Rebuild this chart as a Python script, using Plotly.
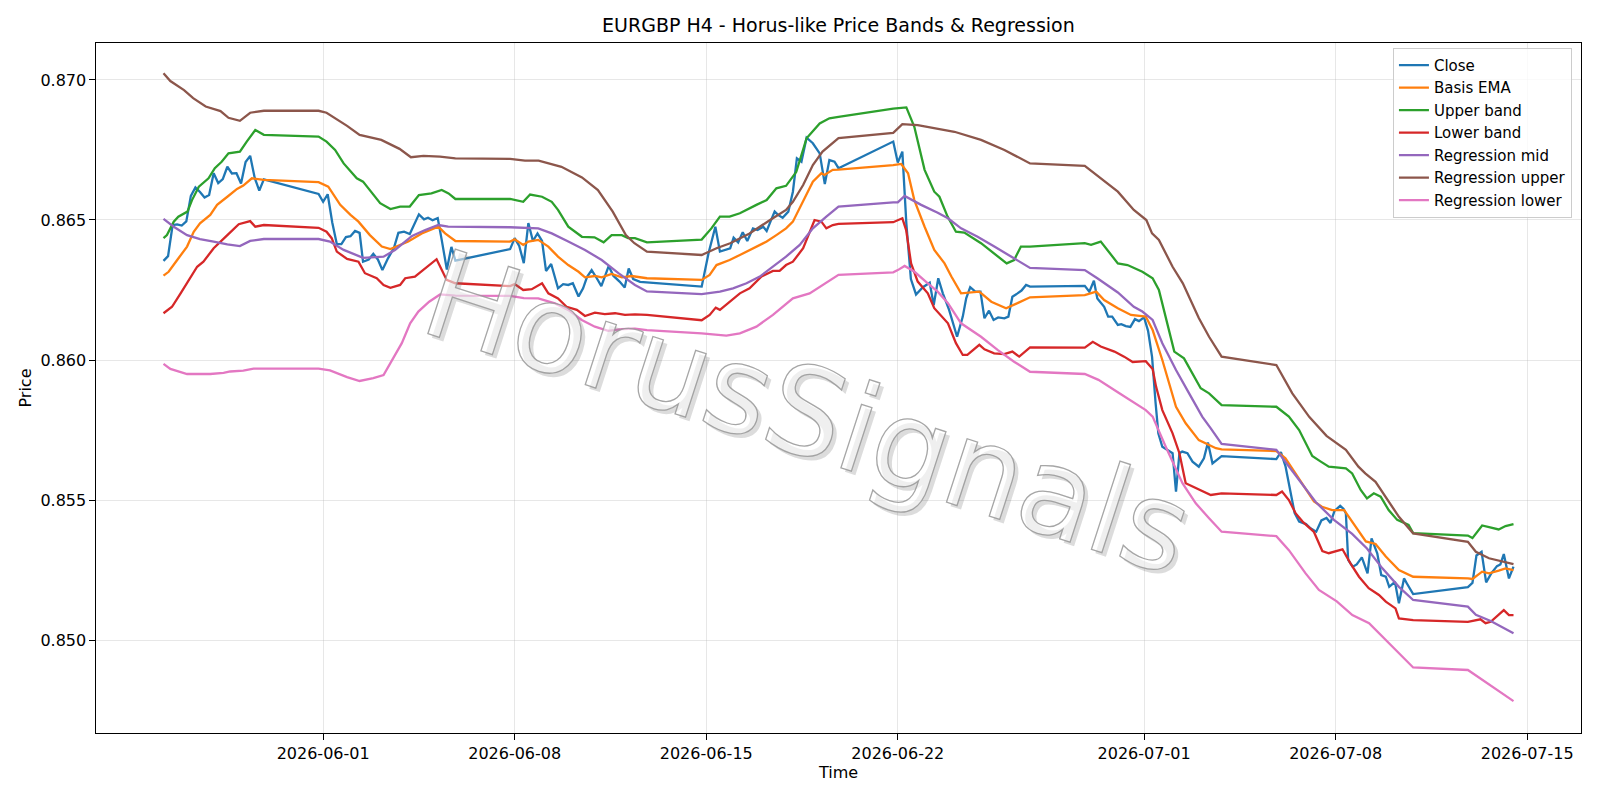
import plotly.graph_objects as go

YEAR = "2026-"

close_pts = [
("05-26 04:00",0.86354),("05-26 08:00",0.86371),("05-26 12:00",0.86482),("05-26 16:00",0.86484),("05-26 20:00",0.86480),
("05-27 00:00",0.86495),("05-27 04:00",0.86586),("05-27 08:00",0.86616),("05-27 12:00",0.86600),("05-27 16:00",0.86580),
("05-27 20:00",0.86589),("05-28 00:00",0.86667),("05-28 04:00",0.86632),("05-28 08:00",0.86646),("05-28 12:00",0.86690),
("05-28 16:00",0.86666),("05-28 20:00",0.86667),("05-29 00:00",0.86630),("05-29 04:00",0.86707),("05-29 08:00",0.86729),
("05-29 12:00",0.86650),("05-29 16:00",0.86605),("05-29 20:00",0.86645),("05-31 20:00",0.86593),("06-01 00:00",0.86565),
("06-01 04:00",0.86592),("06-01 08:00",0.86491),("06-01 12:00",0.86414),("06-01 16:00",0.86414),("06-01 20:00",0.86439),
("06-02 00:00",0.86442),("06-02 04:00",0.86461),("06-02 08:00",0.86454),("06-02 11:00",0.86351),("06-02 16:00",0.86359),
("06-02 20:00",0.86379),("06-03 00:00",0.86359),("06-03 04:00",0.86321),("06-03 09:00",0.86364),("06-03 14:00",0.86399),
("06-03 18:00",0.86454),("06-03 23:00",0.86458),("06-04 04:00",0.86450),("06-04 08:30",0.86490),("06-04 12:00",0.86520),
("06-04 16:30",0.86502),("06-04 20:00",0.86508),("06-05 00:00",0.86499),("06-05 04:30",0.86507),("06-05 08:00",0.86429),
("06-05 12:30",0.86323),("06-05 16:30",0.86404),("06-05 20:00",0.86355),("06-07 20:00",0.86396),("06-08 00:00",0.86435),
("06-08 04:00",0.86407),("06-08 08:00",0.86346),("06-08 12:00",0.86489),("06-08 16:00",0.86425),("06-08 20:00",0.86452),
("06-09 00:00",0.86425),("06-09 03:30",0.86318),("06-09 08:00",0.86343),("06-09 14:00",0.86256),("06-09 18:30",0.86271),
("06-09 23:00",0.86268),("06-10 03:00",0.86274),("06-10 08:00",0.86227),("06-10 12:00",0.86256),("06-10 15:30",0.86297),
("06-10 19:30",0.86321),("06-11 00:00",0.86292),("06-11 04:00",0.86264),("06-11 10:30",0.86336),("06-11 14:30",0.86301),
("06-11 20:00",0.86280),("06-12 00:30",0.86259),("06-12 04:00",0.86327),("06-12 08:00",0.86289),("06-12 14:00",0.86279),
("06-12 20:00",0.86277),("06-14 20:00",0.86262),("06-15 02:00",0.86381),("06-15 08:00",0.86476),("06-15 12:00",0.86387),
("06-15 18:00",0.86396),("06-15 21:00",0.86399),("06-16 00:00",0.86437),("06-16 04:00",0.86420),("06-16 08:00",0.86456),
("06-16 12:00",0.86425),("06-16 17:00",0.86470),("06-16 21:00",0.86464),("06-17 02:00",0.86476),("06-17 05:00",0.86461),
("06-17 08:30",0.86496),("06-17 12:00",0.86530),("06-17 15:00",0.86518),("06-17 19:00",0.86508),("06-18 00:00",0.86530),
("06-18 04:00",0.86601),("06-18 07:30",0.86720),("06-18 11:30",0.86708),("06-18 16:00",0.86794),("06-18 21:30",0.86774),
("06-19 03:30",0.86738),("06-19 08:00",0.86628),("06-19 12:00",0.86714),("06-19 16:30",0.86708),("06-19 20:00",0.86685),
("06-21 20:00",0.86780),("06-22 00:00",0.86705),("06-22 04:00",0.86744),("06-22 07:30",0.86488),("06-22 11:30",0.86289),
("06-22 16:00",0.86234),("06-22 22:00",0.86260),("06-23 04:00",0.86276),("06-23 07:30",0.86196),("06-23 11:30",0.86292),
("06-23 15:30",0.86238),("06-23 21:00",0.86179),("06-24 04:00",0.86083),("06-24 09:00",0.86155),("06-24 12:00",0.86220),
("06-24 15:30",0.86260),("06-24 20:00",0.86244),("06-25 00:30",0.86244),("06-25 04:00",0.86149),("06-25 08:00",0.86176),
("06-25 12:00",0.86143),("06-25 16:00",0.86152),("06-25 21:30",0.86149),("06-26 01:00",0.86155),("06-26 04:30",0.86226),
("06-26 09:00",0.86238),("06-26 12:30",0.86248),("06-26 16:30",0.86268),("06-26 20:00",0.86262),("06-28 20:00",0.86265),
("06-29 00:00",0.86244),("06-29 04:00",0.86283),("06-29 07:00",0.86220),("06-29 13:00",0.86190),("06-29 16:30",0.86155),
("06-29 20:00",0.86155),("06-30 01:00",0.86125),("06-30 04:00",0.86128),("06-30 08:00",0.86121),("06-30 12:00",0.86118),
("06-30 16:00",0.86146),("06-30 19:30",0.86139),("07-01 00:00",0.86152),("07-01 03:30",0.86104),("07-01 07:00",0.86011),
("07-01 10:00",0.85851),("07-01 12:30",0.85738),("07-01 16:00",0.85690),("07-01 20:30",0.85679),("07-02 01:00",0.85667),
("07-02 04:00",0.85530),("07-02 07:00",0.85667),("07-02 09:30",0.85673),("07-02 14:00",0.85667),("07-02 18:30",0.85637),
("07-03 00:00",0.85619),("07-03 04:30",0.85649),("07-03 08:00",0.85705),("07-03 12:00",0.85631),("07-03 16:00",0.85645),
("07-03 20:00",0.85657),("07-05 20:00",0.85646),("07-06 00:00",0.85671),("07-06 04:00",0.85621),("07-06 08:00",0.85543),
("07-06 12:00",0.85454),("07-06 16:00",0.85423),("07-06 22:00",0.85414),("07-07 02:00",0.85399),("07-07 07:00",0.85387),
("07-07 11:30",0.85427),("07-07 16:00",0.85436),("07-07 19:30",0.85418),("07-07 23:00",0.85461),("07-08 04:00",0.85479),
("07-08 07:00",0.85468),("07-08 09:00",0.85452),("07-08 11:00",0.85286),("07-08 15:00",0.85262),("07-08 18:30",0.85270),
("07-08 23:00",0.85295),("07-09 04:00",0.85238),("07-09 07:30",0.85363),("07-09 12:30",0.85310),("07-09 16:00",0.85232),
("07-09 20:00",0.85226),("07-09 23:00",0.85190),("07-10 04:00",0.85208),("07-10 07:30",0.85131),("07-10 12:00",0.85220),
("07-10 14:30",0.85202),("07-10 20:00",0.85164),("07-12 20:00",0.85189),("07-13 00:00",0.85204),("07-13 03:30",0.85302),
("07-13 08:00",0.85315),("07-13 12:00",0.85206),("07-13 16:30",0.85238),("07-13 21:30",0.85264),("07-14 00:30",0.85270),
("07-14 03:30",0.85307),("07-14 08:00",0.85220),("07-14 12:00",0.85262),
]

basis_pts = [
("05-26 04:00",0.86301),("05-26 08:30",0.86315),("05-26 16:00",0.86357),("05-27 00:40",0.86405),("05-27 06:30",0.86458),
("05-27 12:00",0.86488),("05-27 21:00",0.86518),("05-28 03:00",0.86554),("05-28 12:00",0.86583),("05-28 20:30",0.86611),
("05-29 02:00",0.86623),("05-29 09:30",0.86649),("05-29 20:00",0.86643),("05-31 20:00",0.86635),("06-01 04:30",0.86619),
("06-01 15:00",0.86554),("06-02 00:00",0.86518),("06-02 07:00",0.86494),("06-02 17:00",0.86446),("06-03 03:30",0.86405),
("06-03 11:00",0.86396),("06-03 19:30",0.86411),("06-04 02:40",0.86423),("06-04 14:30",0.86452),("06-05 05:00",0.86476),
("06-05 11:00",0.86452),("06-05 20:00",0.86425),("06-07 20:00",0.86423),("06-08 00:00",0.86431),("06-08 07:30",0.86411),
("06-08 12:00",0.86423),("06-08 20:40",0.86429),("06-09 05:30",0.86405),("06-09 14:00",0.86369),("06-09 23:00",0.86339),
("06-10 08:00",0.86315),("06-10 13:40",0.86295),("06-10 22:20",0.86300),("06-11 04:20",0.86295),("06-11 13:00",0.86307),
("06-11 22:00",0.86295),("06-12 06:30",0.86300),("06-12 20:00",0.86292),("06-14 20:00",0.86286),("06-15 03:00",0.86304),
("06-15 09:00",0.86339),("06-15 20:30",0.86357),("06-16 05:30",0.86375),("06-16 17:00",0.86399),("06-17 05:00",0.86423),
("06-17 13:30",0.86446),("06-17 22:00",0.86470),("06-18 04:00",0.86494),("06-18 13:00",0.86565),("06-18 21:30",0.86637),
("06-19 05:00",0.86667),("06-19 07:40",0.86661),("06-19 15:00",0.86679),("06-19 20:00",0.86680),("06-21 20:00",0.86696),
("06-22 03:00",0.86700),("06-22 09:00",0.86667),("06-22 14:30",0.86571),("06-22 23:30",0.86476),("06-23 08:00",0.86393),
("06-23 17:00",0.86345),("06-23 23:00",0.86298),("06-24 07:30",0.86238),("06-24 23:30",0.86244),("06-25 10:00",0.86208),
("06-25 23:00",0.86185),("06-26 09:00",0.86203),("06-26 20:00",0.86224),("06-28 20:00",0.86232),("06-29 06:00",0.86244),
("06-29 13:00",0.86214),("06-30 01:00",0.86185),("06-30 12:30",0.86161),("07-01 01:30",0.86155),("07-01 07:30",0.86107),
("07-01 16:00",0.86000),("07-02 04:00",0.85833),("07-02 12:30",0.85774),("07-03 00:00",0.85714),("07-03 15:00",0.85685),
("07-03 20:00",0.85681),("07-05 20:00",0.85675),("07-06 04:00",0.85649),("07-06 16:00",0.85575),("07-07 05:00",0.85495),
("07-07 12:00",0.85476),("07-07 21:00",0.85464),("07-08 07:30",0.85464),("07-08 14:30",0.85423),("07-09 02:30",0.85352),
("07-09 11:00",0.85343),("07-09 20:00",0.85298),("07-10 07:30",0.85250),("07-10 20:00",0.85226),("07-12 20:00",0.85220),
("07-13 00:00",0.85218),("07-13 08:30",0.85244),("07-13 14:30",0.85238),("07-13 23:00",0.85248),("07-14 05:00",0.85256),
("07-14 12:00",0.85250),
]

upper_pts = [
("05-26 04:00",0.86435),("05-26 07:00",0.86446),("05-26 13:00",0.86494),("05-26 17:00",0.86512),("05-27 01:00",0.86530),
("05-27 05:00",0.86571),("05-27 11:00",0.86619),("05-27 19:30",0.86649),("05-28 01:00",0.86685),("05-28 07:00",0.86708),
("05-28 13:00",0.86738),("05-28 23:00",0.86744),("05-29 05:00",0.86780),("05-29 12:30",0.86821),("05-29 20:00",0.86804),
("05-31 20:00",0.86798),("06-01 03:00",0.86780),("06-01 10:30",0.86750),("06-01 18:00",0.86702),("06-02 00:00",0.86673),
("06-02 05:30",0.86649),("06-02 11:00",0.86637),("06-02 17:00",0.86607),("06-03 02:00",0.86560),("06-03 11:00",0.86539),
("06-03 19:30",0.86548),("06-04 04:00",0.86548),("06-04 12:00",0.86589),("06-04 23:00",0.86595),("06-05 08:00",0.86607),
("06-05 14:00",0.86595),("06-05 20:00",0.86575),("06-07 20:00",0.86575),("06-08 07:30",0.86565),("06-08 13:30",0.86591),
("06-09 00:00",0.86583),("06-09 08:30",0.86565),("06-09 14:00",0.86536),("06-09 23:00",0.86476),("06-10 11:00",0.86440),
("06-10 22:00",0.86438),("06-11 06:00",0.86420),("06-11 13:00",0.86446),("06-11 22:00",0.86446),("06-12 03:30",0.86435),
("06-12 09:30",0.86435),("06-12 20:00",0.86420),("06-14 20:00",0.86430),("06-15 04:30",0.86470),("06-15 12:00",0.86512),
("06-15 20:30",0.86512),("06-16 05:30",0.86524),("06-16 20:00",0.86554),("06-17 05:00",0.86571),("06-17 13:30",0.86613),
("06-17 22:00",0.86622),("06-18 07:00",0.86672),("06-18 16:00",0.86792),("06-19 03:30",0.86845),("06-19 12:00",0.86863),
("06-19 20:00",0.86868),("06-21 20:00",0.86898),("06-22 07:30",0.86902),("06-22 14:30",0.86833),("06-22 23:30",0.86679),
("06-23 08:00",0.86601),("06-23 12:30",0.86583),("06-23 19:40",0.86512),("06-24 03:00",0.86458),("06-24 10:20",0.86455),
("06-25 01:00",0.86417),("06-25 12:30",0.86381),("06-25 23:30",0.86345),("06-26 06:00",0.86357),("06-26 12:00",0.86405),
("06-26 20:00",0.86405),("06-28 20:00",0.86417),("06-29 01:30",0.86411),("06-29 10:00",0.86423),("06-30 01:00",0.86345),
("06-30 09:30",0.86339),("06-30 22:30",0.86315),("07-01 07:30",0.86292),("07-01 13:00",0.86250),("07-02 02:30",0.86030),
("07-02 11:00",0.86006),("07-03 01:40",0.85899),("07-03 09:00",0.85881),("07-03 20:00",0.85839),("07-05 20:00",0.85833),
("07-06 07:00",0.85798),("07-06 16:00",0.85750),("07-07 03:30",0.85657),("07-07 11:00",0.85637),("07-07 18:00",0.85619),
("07-08 09:00",0.85613),("07-08 14:30",0.85595),("07-08 22:00",0.85536),("07-09 03:30",0.85506),("07-09 09:30",0.85524),
("07-09 15:30",0.85512),("07-09 22:30",0.85464),("07-10 06:00",0.85429),("07-10 16:00",0.85411),("07-10 20:00",0.85382),
("07-12 20:00",0.85373),("07-13 00:00",0.85364),("07-13 08:30",0.85409),("07-13 23:00",0.85395),("07-14 05:00",0.85407),
("07-14 12:00",0.85414),
]

lower_pts = [
("05-26 04:00",0.86167),("05-26 11:30",0.86190),("05-26 19:00",0.86238),("05-27 03:30",0.86292),("05-27 09:30",0.86333),
("05-27 15:00",0.86351),("05-28 00:00",0.86399),("05-28 12:00",0.86446),("05-28 22:00",0.86485),("05-29 08:00",0.86496),
("05-29 12:30",0.86476),("05-29 20:00",0.86482),("05-31 20:00",0.86472),("06-01 03:00",0.86458),("06-01 07:30",0.86435),
("06-01 12:00",0.86387),("06-01 21:00",0.86361),("06-02 07:00",0.86351),("06-02 12:40",0.86310),("06-02 23:00",0.86292),
("06-03 05:00",0.86268),("06-03 11:00",0.86258),("06-03 19:30",0.86268),("06-04 00:00",0.86292),("06-04 08:30",0.86298),
("06-05 03:30",0.86360),("06-05 12:20",0.86286),("06-05 20:00",0.86274),("06-07 20:00",0.86264),("06-08 00:00",0.86271),
("06-08 07:30",0.86250),("06-08 15:00",0.86253),("06-09 00:00",0.86274),("06-09 05:30",0.86238),("06-09 14:00",0.86220),
("06-09 21:30",0.86190),("06-10 06:30",0.86179),("06-10 13:40",0.86157),("06-10 22:20",0.86169),("06-11 07:00",0.86164),
("06-11 16:00",0.86167),("06-12 00:40",0.86161),("06-12 09:30",0.86163),("06-12 20:00",0.86161),("06-14 20:00",0.86142),
("06-15 03:00",0.86161),("06-15 08:20",0.86187),("06-15 12:00",0.86179),("06-15 20:30",0.86208),("06-16 05:30",0.86238),
("06-16 14:00",0.86256),("06-17 00:30",0.86298),("06-17 10:30",0.86318),("06-17 16:20",0.86318),("06-17 22:00",0.86339),
("06-18 04:00",0.86351),("06-18 13:00",0.86399),("06-18 23:00",0.86500),("06-19 05:00",0.86494),("06-19 09:20",0.86470),
("06-19 15:00",0.86482),("06-19 20:00",0.86486),("06-21 20:00",0.86492),("06-22 04:00",0.86506),("06-22 07:20",0.86464),
("06-22 11:40",0.86345),("06-22 17:30",0.86280),("06-23 02:20",0.86238),("06-23 08:00",0.86185),("06-23 20:00",0.86131),
("06-24 03:00",0.86060),("06-24 09:00",0.86018),("06-24 13:00",0.86018),("06-24 23:30",0.86054),("06-25 04:00",0.86038),
("06-25 12:30",0.86024),("06-25 21:20",0.86021),("06-26 04:30",0.86030),("06-26 10:30",0.86012),("06-26 20:00",0.86045),
("06-28 20:00",0.86044),("06-29 03:00",0.86065),("06-29 10:00",0.86048),("06-29 22:00",0.86030),("06-30 06:30",0.86012),
("06-30 14:00",0.85993),("07-01 01:30",0.85996),("07-01 07:30",0.85968),("07-01 10:30",0.85905),("07-01 16:00",0.85821),
("07-02 01:00",0.85738),("07-02 07:00",0.85667),("07-02 12:30",0.85560),("07-02 21:20",0.85542),("07-03 04:30",0.85530),
("07-03 10:30",0.85518),("07-03 20:00",0.85524),("07-05 20:00",0.85518),("07-06 01:00",0.85530),("07-06 07:00",0.85500),
("07-06 13:00",0.85452),("07-06 19:00",0.85423),("07-07 05:00",0.85386),("07-07 12:20",0.85318),("07-07 18:00",0.85310),
("07-08 06:00",0.85324),("07-08 13:00",0.85274),("07-08 20:30",0.85226),("07-09 05:00",0.85185),("07-09 14:00",0.85161),
("07-09 20:00",0.85137),("07-10 04:30",0.85113),("07-10 07:30",0.85077),("07-10 20:00",0.85071),("07-12 20:00",0.85065),
("07-13 07:00",0.85074),("07-13 11:30",0.85060),("07-13 16:00",0.85065),("07-14 03:30",0.85107),("07-14 08:00",0.85089),
("07-14 12:00",0.85089),
]

reg_mid_pts = [
("05-26 04:00",0.86504),("05-26 13:00",0.86476),("05-27 00:40",0.86446),("05-27 12:00",0.86432),("05-28 00:00",0.86423),
("05-28 12:00",0.86413),("05-28 23:00",0.86407),("05-29 08:00",0.86425),("05-29 20:00",0.86432),("05-31 20:00",0.86432),
("06-01 06:00",0.86423),("06-01 18:00",0.86393),("06-02 11:00",0.86365),("06-03 05:00",0.86369),("06-03 15:00",0.86393),
("06-04 06:00",0.86443),("06-04 17:30",0.86464),("06-05 05:00",0.86482),("06-05 13:40",0.86476),("06-05 20:00",0.86476),
("06-07 20:00",0.86474),("06-08 20:40",0.86470),("06-09 08:30",0.86452),("06-09 23:00",0.86423),("06-10 13:40",0.86393),
("06-11 04:20",0.86357),("06-11 19:00",0.86310),("06-12 09:30",0.86268),("06-12 20:00",0.86245),("06-14 20:00",0.86235),
("06-15 12:00",0.86244),("06-15 23:30",0.86256),("06-16 11:20",0.86274),("06-16 23:00",0.86298),("06-17 10:30",0.86333),
("06-17 22:00",0.86369),("06-18 10:00",0.86411),("06-18 21:30",0.86470),("06-19 09:20",0.86512),("06-19 20:00",0.86548),
("06-21 20:00",0.86563),("06-22 00:00",0.86563),("06-22 06:00",0.86586),("06-22 20:30",0.86554),("06-23 11:00",0.86526),
("06-23 20:00",0.86506),("06-24 07:30",0.86470),("06-24 22:00",0.86440),("06-25 12:40",0.86405),("06-26 03:20",0.86369),
("06-26 20:00",0.86329),("06-28 20:00",0.86321),("06-29 07:00",0.86292),("06-30 01:00",0.86241),("06-30 15:00",0.86190),
("06-30 22:30",0.86173),("07-01 07:30",0.86143),("07-01 16:00",0.86060),("07-02 04:00",0.85964),("07-02 15:30",0.85881),
("07-03 03:00",0.85798),("07-03 10:30",0.85756),("07-03 20:00",0.85700),("07-05 20:00",0.85679),("07-06 07:00",0.85619),
("07-06 19:00",0.85554),("07-07 06:30",0.85493),("07-07 22:30",0.85429),("07-08 14:30",0.85379),("07-09 03:30",0.85327),
("07-09 17:00",0.85256),("07-10 07:30",0.85190),("07-10 20:00",0.85143),("07-12 20:00",0.85119),("07-13 03:00",0.85090),
("07-13 16:00",0.85068),("07-14 12:00",0.85024),
]

reg_upper_pts = [
("05-26 04:00",0.87024),("05-26 10:00",0.86996),("05-26 22:00",0.86964),("05-27 06:00",0.86935),("05-27 17:00",0.86905),
("05-28 06:00",0.86889),("05-28 13:00",0.86865),("05-28 23:00",0.86854),("05-29 08:00",0.86883),("05-29 20:00",0.86890),
("05-31 20:00",0.86890),("06-01 03:00",0.86883),("06-01 21:00",0.86836),("06-02 08:00",0.86804),("06-03 03:00",0.86786),
("06-03 19:00",0.86754),("06-04 05:00",0.86724),("06-04 16:00",0.86729),("06-05 06:30",0.86726),("06-05 20:00",0.86720),
("06-07 20:00",0.86718),("06-08 09:00",0.86712),("06-08 21:00",0.86712),("06-09 17:00",0.86690),("06-10 11:00",0.86652),
("06-11 01:00",0.86607),("06-11 14:00",0.86530),("06-12 01:30",0.86446),("06-12 09:00",0.86417),("06-12 20:00",0.86387),
("06-14 20:00",0.86375),("06-15 09:00",0.86399),("06-15 21:00",0.86417),("06-16 14:00",0.86452),("06-17 08:00",0.86500),
("06-17 22:00",0.86536),("06-18 04:00",0.86565),("06-18 13:00",0.86625),("06-18 21:30",0.86696),("06-19 06:00",0.86744),
("06-19 20:00",0.86792),("06-21 20:00",0.86811),("06-22 04:00",0.86842),("06-22 17:30",0.86839),("06-24 01:40",0.86815),
("06-25 01:00",0.86786),("06-25 21:30",0.86750),("06-26 20:00",0.86702),("06-28 20:00",0.86693),("06-29 10:00",0.86649),
("06-30 01:00",0.86601),("06-30 15:00",0.86536),("07-01 02:00",0.86500),("07-01 07:00",0.86452),("07-01 13:00",0.86429),
("07-02 01:00",0.86333),("07-02 10:00",0.86274),("07-03 00:00",0.86150),("07-03 09:00",0.86083),("07-03 20:00",0.86012),
("07-05 20:00",0.85982),("07-06 10:00",0.85881),("07-07 01:00",0.85796),("07-07 16:00",0.85729),("07-08 09:00",0.85679),
("07-08 20:00",0.85619),("07-09 02:00",0.85595),("07-09 11:00",0.85565),("07-10 07:30",0.85440),("07-10 20:00",0.85381),
("07-12 20:00",0.85351),("07-13 03:00",0.85315),("07-13 14:30",0.85292),("07-14 12:00",0.85271),
]

reg_lower_pts = [
("05-26 04:00",0.85986),("05-26 10:00",0.85968),("05-27 00:40",0.85950),("05-27 21:00",0.85950),("05-28 08:40",0.85954),
("05-28 14:30",0.85959),("05-29 02:00",0.85962),("05-29 11:00",0.85969),("05-29 20:00",0.85969),("05-31 20:00",0.85969),
("06-01 06:00",0.85963),("06-01 21:00",0.85939),("06-02 08:00",0.85925),("06-02 20:00",0.85935),("06-03 05:00",0.85946),
("06-03 13:40",0.86006),("06-03 21:00",0.86060),("06-04 04:20",0.86131),("06-04 11:30",0.86173),("06-04 21:00",0.86208),
("06-05 06:30",0.86234),("06-05 20:00",0.86230),("06-07 20:00",0.86229),("06-08 08:00",0.86221),("06-08 20:40",0.86220),
("06-09 11:20",0.86202),("06-09 23:00",0.86179),("06-10 10:50",0.86143),("06-10 22:20",0.86119),("06-11 10:00",0.86104),
("06-11 22:00",0.86110),("06-12 09:30",0.86112),("06-12 20:00",0.86107),("06-14 20:00",0.86095),("06-15 17:40",0.86087),
("06-16 05:30",0.86095),("06-16 20:00",0.86119),("06-17 10:30",0.86161),("06-18 04:00",0.86220),("06-18 18:40",0.86238),
("06-19 06:30",0.86268),("06-19 20:00",0.86304),("06-21 20:00",0.86313),("06-22 00:00",0.86321),("06-22 06:00",0.86336),
("06-22 14:40",0.86315),("06-23 02:20",0.86274),("06-23 11:00",0.86244),("06-23 20:00",0.86203),("06-24 07:30",0.86131),
("06-25 01:00",0.86083),("06-25 15:30",0.86036),("06-26 06:00",0.85994),("06-26 20:00",0.85958),("06-28 20:00",0.85950),
("06-29 08:00",0.85929),("06-30 02:20",0.85881),("06-30 14:00",0.85851),("07-01 01:30",0.85821),("07-01 07:30",0.85798),
("07-01 19:00",0.85690),("07-02 09:40",0.85560),("07-02 21:20",0.85488),("07-03 09:00",0.85435),("07-03 20:00",0.85387),
("07-05 20:00",0.85371),("07-06 07:00",0.85321),("07-06 21:40",0.85238),("07-07 09:20",0.85179),("07-08 01:00",0.85138),
("07-08 14:40",0.85089),("07-09 05:20",0.85060),("07-09 17:00",0.85012),("07-10 07:30",0.84952),("07-10 20:00",0.84902),
("07-12 20:00",0.84893),("07-13 17:20",0.84833),("07-14 12:00",0.84782),
]

series = [
    ("Close", close_pts, "#1f77b4"),
    ("Basis EMA", basis_pts, "#ff7f0e"),
    ("Upper band", upper_pts, "#2ca02c"),
    ("Lower band", lower_pts, "#d62728"),
    ("Regression mid", reg_mid_pts, "#9467bd"),
    ("Regression upper", reg_upper_pts, "#8c564b"),
    ("Regression lower", reg_lower_pts, "#e377c2"),
]

x_ticks = ["2026-06-01", "2026-06-08", "2026-06-15", "2026-06-22", "2026-07-01", "2026-07-08", "2026-07-15"]
y_ticks = [0.850, 0.855, 0.860, 0.865, 0.870]

FONT = "DejaVu Sans, Verdana, sans-serif"

fig = go.Figure()
for name, pts, color in series:
    fig.add_trace(go.Scatter(
        x=[YEAR + t for t, _ in pts], y=[v for _, v in pts],
        mode="lines", name=name,
        line=dict(color=color, width=2.3),
    ))

# watermark: soft drop shadow + translucent white text with a grey outline
wm = dict(text="HorusSignals", xref="paper", yref="paper", x=0.4795, y=0.464,
          xanchor="center", yanchor="middle", showarrow=False, textangle=18)
fig.add_annotation(**wm, xshift=4, yshift=-4,
                   font=dict(family=FONT, size=122, color="rgba(110,110,110,0.24)"))
fig.add_annotation(**wm,
                   font=dict(family=FONT, size=122, color="rgba(255,255,255,0.55)"))

axis_common = dict(
    showline=True, linecolor="black", linewidth=1.2, mirror=True,
    ticks="outside", ticklen=5.5, tickwidth=1.2, tickcolor="black",
    showgrid=True, gridcolor="rgba(176,176,176,0.3)", gridwidth=1.2,
    zeroline=False, tickfont=dict(family=FONT, size=16, color="black"),
)

fig.update_layout(
    width=1600, height=800,
    margin=dict(l=96, r=19, t=43, b=67),
    paper_bgcolor="white", plot_bgcolor="white",
    font=dict(family=FONT, size=16, color="black"),
    title=dict(text="EURGBP H4 - Horus-like Price Bands & Regression",
               x=0.524, xanchor="center", y=0.968, yanchor="middle",
               font=dict(family=FONT, size=19, color="black")),
    xaxis=dict(axis_common, type="date",
               range=["2026-05-23 16:48", "2026-07-16 23:12"],
               tickvals=x_ticks, ticktext=x_ticks,
               title=dict(text="Time", standoff=2, font=dict(family=FONT, size=16))),
    yaxis=dict(axis_common, range=[0.84668, 0.87132],
               tickvals=y_ticks, ticktext=[f"{v:.3f}" for v in y_ticks],
               title=dict(text="Price", standoff=4, font=dict(family=FONT, size=16))),
    legend=dict(x=0.9939, y=0.993, xanchor="right", yanchor="top",
                bgcolor="rgba(255,255,255,0.8)", bordercolor="#cccccc", borderwidth=1,
                font=dict(family=FONT, size=15, color="black")),
    showlegend=True,
)

post = """
var gd = document.getElementById('{plot_id}');
function outline() {
  var t = gd.querySelectorAll('.annotation[data-index="1"] .annotation-text');
  t.forEach(function(el) {
    el.style.stroke = 'rgba(150,150,150,0.85)';
    el.style.strokeWidth = '1.3px';
  });
}
outline();
gd.on('plotly_afterplot', outline);
"""

fig.write_html("out.html", post_script=post)
